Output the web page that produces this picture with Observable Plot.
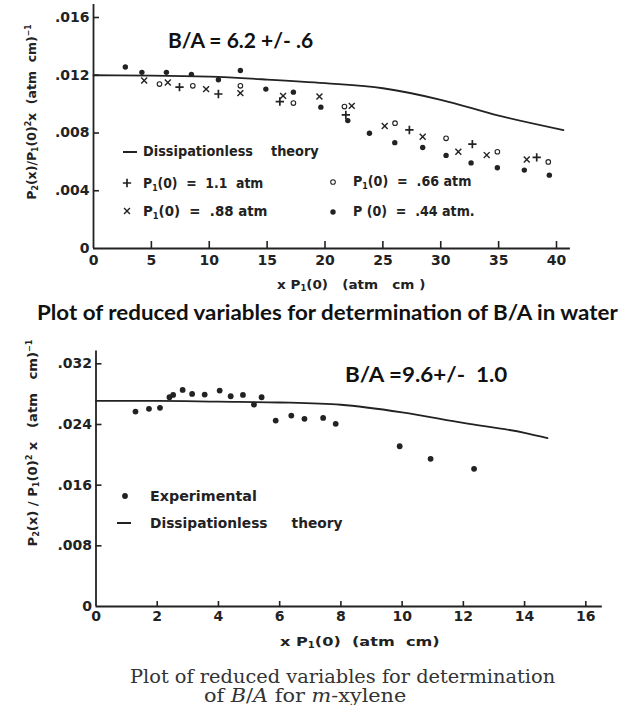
<!DOCTYPE html>
<html><head><meta charset="utf-8">
<script src="https://cdn.jsdelivr.net/npm/d3@7"></script>
<script src="https://cdn.jsdelivr.net/npm/@observablehq/plot@0.6"></script>
<style>
body{margin:0;background:#fff;}
#wrap{position:relative;width:620px;height:705px;overflow:hidden;background:#fff;color:#222;}
.abs{position:absolute;white-space:pre;line-height:1;}
.lab{font-family:"DejaVu Sans";font-weight:bold;color:#222;}
.ann{font-family:Lato;font-weight:bold;color:#111;}
.cap{font-family:"DejaVu Serif";color:#333;}
sub{font-size:.62em;vertical-align:-.3em;line-height:0}
sup{font-size:.62em;vertical-align:.6em;line-height:0}
</style></head><body><div id="wrap"></div><script>
// ---------- Water panel data ----------
const waterXTicks = [0, 5, 10, 15, 20, 25, 30, 35, 40];
const waterYTicks = [0, 0.004, 0.008, 0.012, 0.016];
const waterTheoryX = [0, 5, 10, 15, 20, 25, 30, 35, 40.6];
const waterTheoryY = [0.0120, 0.01198, 0.0119, 0.0117, 0.01145, 0.0111, 0.0103, 0.0092, 0.0082];
const p110X = [7.43, 10.79, 16.1, 21.8, 27.29, 32.73, 38.29];
const p110Y = [0.01118, 0.0107, 0.01018, 0.00925, 0.00821, 0.00723, 0.00631];
const p088X = [4.38, 6.42, 9.73, 12.69, 16.38, 19.52, 22.31, 25.16, 28.44, 31.52, 33.97, 37.43];
const p088Y = [0.01164, 0.0115, 0.01104, 0.01076, 0.01057, 0.01053, 0.00988, 0.00849, 0.00774, 0.0067, 0.00647, 0.00617];
const p066X = [5.70, 8.58, 12.69, 17.27, 21.68, 26.05, 30.46, 34.89, 39.29];
const p066Y = [0.01139, 0.01127, 0.01127, 0.01007, 0.00983, 0.00868, 0.00763, 0.0067, 0.0060];
const p044X = [2.75, 4.18, 6.30, 8.46, 10.79, 12.69, 14.89, 17.27, 19.64, 21.97, 23.84, 26.03, 28.44, 30.46, 32.62, 34.89, 37.22, 39.38];
const p044Y = [0.01257, 0.0122, 0.0122, 0.01206, 0.01169, 0.01233, 0.01104, 0.01083, 0.00979, 0.00886, 0.00798, 0.00733, 0.0070, 0.00645, 0.00593, 0.00559, 0.00543, 0.00508];
// ---------- m-xylene panel data ----------
const xylXTicks = [0, 2, 4, 6, 8, 10, 12, 14, 16];
const xylYTicks = [0, 0.008, 0.016, 0.024, 0.032];
const xylTheoryX = [0, 2, 4, 6, 8, 10, 12, 14, 14.75];
const xylTheoryY = [0.0271, 0.0271, 0.0270, 0.0269, 0.0266, 0.0256, 0.0242, 0.0229, 0.0222];
const xylExpX = [1.29, 1.73, 2.09, 2.40, 2.52, 2.83, 3.14, 3.55, 4.04, 4.40, 4.80, 5.16, 5.41, 5.87, 6.38, 6.81, 7.42, 7.83, 9.92, 10.93, 12.35];
const xylExpY = [0.0257, 0.02606, 0.02619, 0.0276, 0.0279, 0.02856, 0.02803, 0.02794, 0.02847, 0.02772, 0.0279, 0.02662, 0.02759, 0.02451, 0.02517, 0.02474, 0.02487, 0.02408, 0.02113, 0.01947, 0.01815];

const INK = "#222";
const zip = (xs, ys) => xs.map((x, i) => ({x, y: ys[i]}));
const fmtY = d => d === 0 ? "0" : d3.format(".3f")(d).slice(1);

function panel(o) {
  return Plot.plot({
    width: 620, height: o.height,
    marginLeft: o.ml, marginRight: o.mr, marginTop: o.mt, marginBottom: o.mb,
    x: {domain: o.xDomain}, y: {domain: o.yDomain},
    style: {background: "transparent", color: INK, fontFamily: "DejaVu Sans", fontSize: "14px", fontWeight: "bold", overflow: "visible"},
    marks: [
      Plot.ruleY([0], {x1: 0, x2: o.xEnd, stroke: INK, strokeWidth: 1.8}),
      Plot.ruleX([0], {y1: 0, y2: o.yEnd, stroke: INK, strokeWidth: 1.8}),
      Plot.ruleX(o.xTicks.filter(d => d), {x: d => d, y1: 0, y2: 0, insetTop: -o.xTickLen, stroke: INK, strokeWidth: 1.6}),
      Plot.ruleY(o.yTicks.filter(d => d), {y: d => d, x1: 0, x2: 0, insetRight: -6, stroke: INK, strokeWidth: 1.6}),
      Plot.axisX({ticks: o.xTicks, tickSize: 0, tickPadding: o.xPad, label: null, tickFormat: d => String(d), fontSize: 14, fontWeight: "bold"}),
      Plot.axisY({ticks: o.yTicks, tickSize: 0, tickPadding: 4, label: null, tickFormat: fmtY, fontSize: 14, fontWeight: "bold"}),
      ...o.marks
    ]
  });
}

const wrap = document.getElementById("wrap");

const top1 = panel({
  height: 275, ml: 93, mr: 64, mt: 17, mb: 27,
  xDomain: [0, 40], yDomain: [0, 0.016], xTicks: waterXTicks, yTicks: waterYTicks,
  xEnd: 41.2, yEnd: 0.0169, xTickLen: 7, xPad: 7,
  marks: [
    Plot.line(zip(waterTheoryX, waterTheoryY), {x: "x", y: "y", curve: "monotone-x", stroke: INK, strokeWidth: 1.8}),
    Plot.dot(zip(p110X, p110Y), {x: "x", y: "y", symbol: "plus", r: 2.8, stroke: INK, strokeWidth: 1.7}),
    Plot.dot(zip(p088X, p088Y), {x: "x", y: "y", symbol: "times", r: 2.8, stroke: INK, strokeWidth: 1.4}),
    Plot.dot(zip(p066X, p066Y), {x: "x", y: "y", r: 2.3, stroke: INK, strokeWidth: 1.1, fill: "none"}),
    Plot.dot(zip(p044X, p044Y), {x: "x", y: "y", r: 2.7, fill: INK, stroke: "none"})
  ]
});
top1.style.position = "absolute"; top1.style.left = "0px"; top1.style.top = "0px";
wrap.appendChild(top1);

const bot = panel({
  height: 300, ml: 95.5, mr: 34.7, mt: 33.3, mb: 24,
  xDomain: [0, 16], yDomain: [0, 0.032], xTicks: xylXTicks, yTicks: xylYTicks,
  xEnd: 16.54, yEnd: 0.0337, xTickLen: 5, xPad: 5,
  marks: [
    Plot.line(zip(xylTheoryX, xylTheoryY), {x: "x", y: "y", curve: "monotone-x", stroke: INK, strokeWidth: 1.8}),
    Plot.dot(zip(xylExpX, xylExpY), {x: "x", y: "y", r: 2.9, fill: INK, stroke: "none"})
  ]
});
bot.style.position = "absolute"; bot.style.left = "0px"; bot.style.top = "330px";
wrap.appendChild(bot);

// ---------- text & legends ----------
function put(html, cls, left, cy, w, size, rotate) {
  const el = document.createElement("div");
  el.className = "abs " + cls; el.innerHTML = html; el.style.fontSize = size + "px";
  wrap.appendChild(el);
  const s = w / el.offsetWidth;
  if (!rotate) {
    el.style.left = left + "px"; el.style.top = (cy - el.offsetHeight / 2) + "px";
    el.style.transformOrigin = "0 50%"; el.style.transform = `scaleX(${s})`;
  } else {
    el.style.left = left + "px"; el.style.top = cy + "px";
    el.style.transformOrigin = "0 0"; el.style.transform = `rotate(-90deg) scaleX(${s}) translate(-50%,-50%)`;
  }
  return el;
}
function sym(kind, cx, cy, r) {
  const s = d3.create("svg").attr("width", 16).attr("height", 16)
    .style("position", "absolute").style("left", (cx - 8) + "px").style("top", (cy - 8) + "px");
  const g = s.append("g").attr("transform", "translate(8,8)");
  if (kind === "line") g.append("line").attr("x1", -7).attr("x2", 7).attr("stroke", INK).attr("stroke-width", 2);
  else if (kind === "plus") g.append("path").attr("d", d3.symbol(d3.symbolPlus, Math.PI * r * r)()).attr("fill", "none").attr("stroke", INK).attr("stroke-width", 1.7);
  else if (kind === "times") g.append("path").attr("d", d3.symbol(d3.symbolTimes, Math.PI * r * r)()).attr("fill", "none").attr("stroke", INK).attr("stroke-width", 1.4);
  else if (kind === "open") g.append("circle").attr("r", r).attr("fill", "none").attr("stroke", INK).attr("stroke-width", 1.1);
  else g.append("circle").attr("r", r).attr("fill", INK);
  wrap.appendChild(s.node());
}

// top panel
put("B/A = 6.2 +/- .6", "ann", 168, 39, 145, 21);
sym("line", 130, 152);
put("Dissipationless    theory", "lab", 143, 151, 176, 14);
sym("plus", 127, 183, 2.8); put("P<sub>1</sub>(0)  =  1.1  atm", "lab", 143, 183, 120, 14);
sym("times", 127, 211, 2.8); put("P<sub>1</sub>(0)  =  .88 atm", "lab", 143, 211, 124, 14);
sym("open", 333, 182, 2.3); put("P<sub>1</sub>(0)  =  .66 atm", "lab", 353, 181, 118, 14);
sym("dot", 333, 212, 2.7); put("P (0)  =  .44 atm.", "lab", 353, 211, 122, 14);
put("x P<sub>1</sub>(0)   (atm   cm )", "lab", 277, 284, 148, 13);
put("P<sub>2</sub>(x)/P<sub>1</sub>(0)<sup>2</sup>x  (atm  cm)<sup>−1</sup>", "lab", 31, 112, 175, 13, true);
put("Plot of reduced variables for determination of B/A in water", "ann", 37, 312, 581, 20);

// bottom panel
put("B/A =9.6+/-  1.0", "ann", 345, 373, 162, 21);
sym("dot", 125, 496, 2.9); put("Experimental", "lab", 150, 496, 107, 14);
sym("line", 124, 523); put("Dissipationless     theory", "lab", 150, 523, 193, 14);
put("x P<sub>1</sub>(0)  (atm  cm)", "lab", 280, 641, 160, 13);
put("P<sub>2</sub>(x) / P<sub>1</sub>(0)<sup>2</sup> x   (atm   cm)<sup>−1</sup>", "lab", 32, 443, 207, 13, true);
put("Plot of reduced variables for determination", "cap", 130, 677, 425, 18);
put("of <i>B</i>/<i>A</i> for <i>m</i>-xylene", "cap", 204, 696, 202, 18);
</script></body></html>
